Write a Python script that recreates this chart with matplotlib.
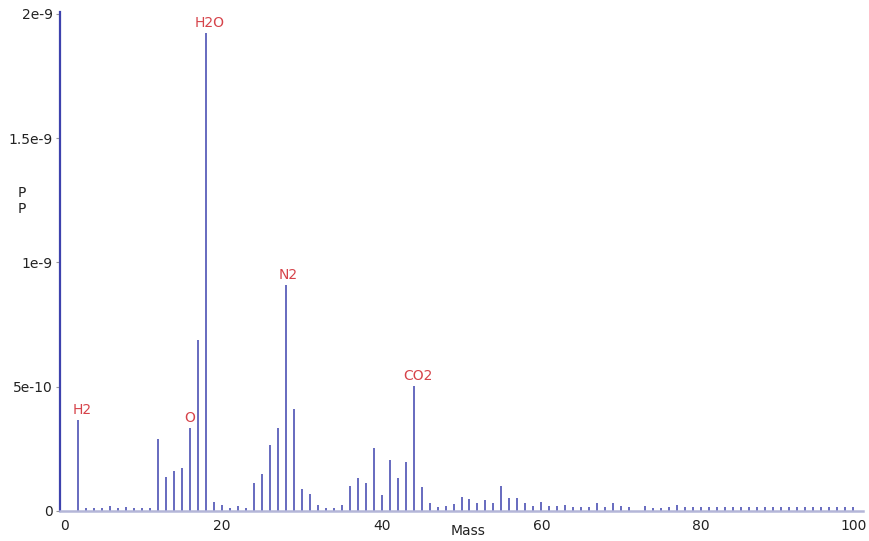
import matplotlib
matplotlib.use("Agg")
import matplotlib.pyplot as plt
import matplotlib.transforms as mtransforms

# Mass spectrum: partial pressure per mass number
masses = list(range(2, 72)) + list(range(73, 100))
pressures_e9 = [
    0.366, 0.009, 0.009, 0.009, 0.017, 0.009, 0.016, 0.009, 0.009, 0.009,   # 2-11
    0.289, 0.137, 0.160, 0.173, 0.331, 0.688, 1.922, 0.034, 0.022, 0.011,   # 12-21
    0.020, 0.011, 0.110, 0.149, 0.263, 0.332, 0.908, 0.410, 0.087, 0.069,   # 22-31
    0.023, 0.012, 0.011, 0.023, 0.098, 0.133, 0.112, 0.251, 0.062, 0.204,   # 32-41
    0.133, 0.196, 0.501, 0.097, 0.030, 0.015, 0.017, 0.027, 0.055, 0.048,   # 42-51
    0.031, 0.042, 0.031, 0.101, 0.051, 0.051, 0.030, 0.019, 0.036, 0.020,   # 52-61
    0.017, 0.023, 0.016, 0.013, 0.013, 0.030, 0.016, 0.030, 0.017, 0.013,   # 62-71
    0.020, 0.012, 0.012, 0.016, 0.022, 0.015, 0.013,                        # 73-79
    0.015, 0.014, 0.015, 0.015, 0.014, 0.015, 0.015, 0.014, 0.015, 0.015,   # 80-89
    0.014, 0.015, 0.015, 0.014, 0.015, 0.015, 0.014, 0.015, 0.015, 0.014,   # 90-99
]
pressures = [p * 1e-9 for p in pressures_e9]

peak_names = ["H2", "O", "H2O", "N2", "CO2"]
peak_masses = [2, 16, 18, 28, 44]
# horizontal nudge of each peak name, in points
peak_dx = [3, 0, 3, 1.5, 3]

x_ticks = [0, 20, 40, 60, 80, 100]
y_ticks = [0, 5e-10, 1e-9, 1.5e-9, 2e-9]
y_tick_labels = ["0", "5e-10", "1e-9", "1.5e-9", "2e-9"]

bar_color = "#3d42ad"
label_color = "#d6434a"
text_color = "#222222"

fig = plt.figure(figsize=(8.69, 5.41), dpi=100)
W, H = 869, 541
ax = fig.add_axes([60 / W, (H - 510.7) / H, 803 / W, 498.7 / H])

ax.vlines(masses, 0, pressures, color=bar_color, linewidth=1.1)

value_of = dict(zip(masses, pressures))
for name, m, dx in zip(peak_names, peak_masses, peak_dx):
    ax.annotate(name, xy=(m, value_of[m]), xytext=(dx, 2.2),
                textcoords="offset points", ha="center", va="bottom",
                color=label_color, fontsize=10)

ax.set_xlim(-0.25, 100.25)
ax.set_ylim(0, 2.008e-9)

ax.set_xticks(x_ticks)
ax.set_xticklabels([str(t) for t in x_ticks])
ax.set_yticks(y_ticks)
ax.set_yticklabels(y_tick_labels)
ax.tick_params(axis="x", length=0, pad=6, labelsize=10, labelcolor=text_color)
ax.tick_params(axis="y", length=3, width=0.8, color="#999999", pad=2,
               labelsize=10, labelcolor=text_color)

# keep the end labels inside the figure
xlabels = ax.get_xticklabels()
xlabels[0].set_transform(xlabels[0].get_transform() +
                         mtransforms.ScaledTranslation(3 / 100, 0, fig.dpi_scale_trans))
xlabels[-1].set_transform(xlabels[-1].get_transform() +
                          mtransforms.ScaledTranslation(-7 / 100, 0, fig.dpi_scale_trans))

for side in ("top", "right"):
    ax.spines[side].set_visible(False)
ax.spines["left"].set_color(bar_color)
ax.spines["left"].set_linewidth(1.6)
ax.spines["bottom"].set_color("#b4b6d8")
ax.spines["bottom"].set_linewidth(1.8)

ax.set_xlabel("Mass", fontsize=10, color=text_color)
ax.xaxis.set_label_coords((468 - 60) / 803, -0.041)
ax.xaxis.label.set_verticalalignment("center")
ax.set_ylabel("P\nP", fontsize=10, color=text_color, rotation=0,
              linespacing=1.1)
ax.yaxis.set_label_coords((22 - 60) / 803, (510.7 - 201) / 498.7)
ax.yaxis.label.set_verticalalignment("center")
ax.yaxis.label.set_horizontalalignment("center")

fig.savefig("out.png", dpi=100)
